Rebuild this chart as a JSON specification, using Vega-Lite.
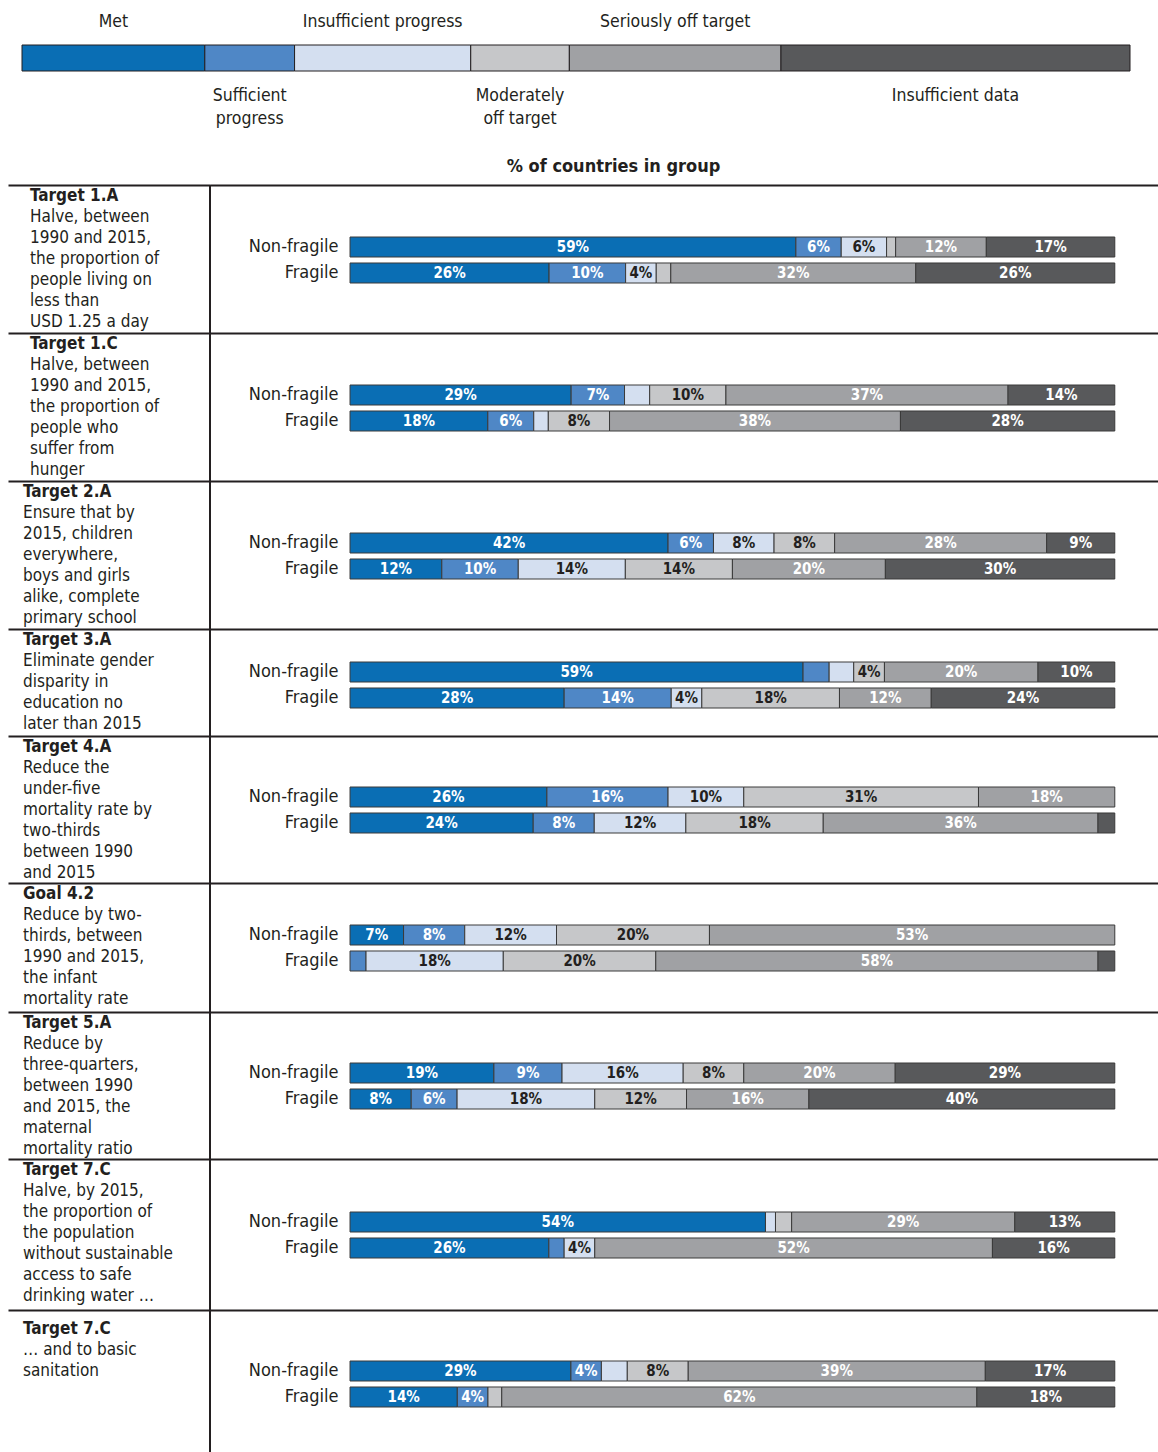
{
  "$schema": "https://vega.github.io/schema/vega-lite/v6.json",
  "padding": {"left": 8, "top": 13, "right": 0, "bottom": 0},
  "spacing": 114,
  "bounds": "flush",
  "resolve": {"scale": {"x": "independent", "y": "independent"}, "axis": {"x": "independent", "y": "independent"}},
  "datasets": {
    "keys": [
      {"status": "Met", "caption": "Met", "span": 16.5},
      {"status": "Sufficient progress", "caption": "Sufficient\nprogress", "span": 8.1},
      {"status": "Insufficient progress", "caption": "Insufficient progress", "span": 15.9},
      {"status": "Moderately off target", "caption": "Moderately\noff target", "span": 8.9},
      {"status": "Seriously off target", "caption": "Seriously off target", "span": 19.1},
      {"status": "Insufficient data", "caption": "Insufficient data", "span": 31.5}
    ],
    "notes": [
      {"target": "1.A", "line": 0, "text": "Target 1.A"},
      {"target": "1.A", "line": 1, "text": "Halve, between"},
      {"target": "1.A", "line": 2, "text": "1990 and 2015,"},
      {"target": "1.A", "line": 3, "text": "the proportion of"},
      {"target": "1.A", "line": 4, "text": "people living on"},
      {"target": "1.A", "line": 5, "text": "less than"},
      {"target": "1.A", "line": 6, "text": "USD 1.25 a day"},
      {"target": "1.C", "line": 0, "text": "Target 1.C"},
      {"target": "1.C", "line": 1, "text": "Halve, between"},
      {"target": "1.C", "line": 2, "text": "1990 and 2015,"},
      {"target": "1.C", "line": 3, "text": "the proportion of"},
      {"target": "1.C", "line": 4, "text": "people who"},
      {"target": "1.C", "line": 5, "text": "suffer from"},
      {"target": "1.C", "line": 6, "text": "hunger"},
      {"target": "2.A", "line": 0, "text": "Target 2.A"},
      {"target": "2.A", "line": 1, "text": "Ensure that by"},
      {"target": "2.A", "line": 2, "text": "2015, children"},
      {"target": "2.A", "line": 3, "text": "everywhere,"},
      {"target": "2.A", "line": 4, "text": "boys and girls"},
      {"target": "2.A", "line": 5, "text": "alike, complete"},
      {"target": "2.A", "line": 6, "text": "primary school"},
      {"target": "3.A", "line": 0, "text": "Target 3.A"},
      {"target": "3.A", "line": 1, "text": "Eliminate gender"},
      {"target": "3.A", "line": 2, "text": "disparity in"},
      {"target": "3.A", "line": 3, "text": "education no"},
      {"target": "3.A", "line": 4, "text": "later than 2015"},
      {"target": "4.A", "line": 0, "text": "Target 4.A"},
      {"target": "4.A", "line": 1, "text": "Reduce the"},
      {"target": "4.A", "line": 2, "text": "under-five"},
      {"target": "4.A", "line": 3, "text": "mortality rate by"},
      {"target": "4.A", "line": 4, "text": "two-thirds"},
      {"target": "4.A", "line": 5, "text": "between 1990"},
      {"target": "4.A", "line": 6, "text": "and 2015"},
      {"target": "4.2", "line": 0, "text": "Goal 4.2"},
      {"target": "4.2", "line": 1, "text": "Reduce by two-"},
      {"target": "4.2", "line": 2, "text": "thirds, between"},
      {"target": "4.2", "line": 3, "text": "1990 and 2015,"},
      {"target": "4.2", "line": 4, "text": "the infant"},
      {"target": "4.2", "line": 5, "text": "mortality rate"},
      {"target": "5.A", "line": 0, "text": "Target 5.A"},
      {"target": "5.A", "line": 1, "text": "Reduce by"},
      {"target": "5.A", "line": 2, "text": "three-quarters,"},
      {"target": "5.A", "line": 3, "text": "between 1990"},
      {"target": "5.A", "line": 4, "text": "and 2015, the"},
      {"target": "5.A", "line": 5, "text": "maternal"},
      {"target": "5.A", "line": 6, "text": "mortality ratio"},
      {"target": "7.C water", "line": 0, "text": "Target 7.C"},
      {"target": "7.C water", "line": 1, "text": "Halve, by 2015,"},
      {"target": "7.C water", "line": 2, "text": "the proportion of"},
      {"target": "7.C water", "line": 3, "text": "the population"},
      {"target": "7.C water", "line": 4, "text": "without sustainable"},
      {"target": "7.C water", "line": 5, "text": "access to safe"},
      {"target": "7.C water", "line": 6, "text": "drinking water …"},
      {"target": "7.C sanitation", "line": 0, "text": "Target 7.C"},
      {"target": "7.C sanitation", "line": 1, "text": "… and to basic"},
      {"target": "7.C sanitation", "line": 2, "text": "sanitation"}
    ],
    "bars": [
      {"target": "1.A", "group": "Non-fragile", "status": "Met", "value": 59},
      {"target": "1.A", "group": "Non-fragile", "status": "Sufficient progress", "value": 6},
      {"target": "1.A", "group": "Non-fragile", "status": "Insufficient progress", "value": 6},
      {"target": "1.A", "group": "Non-fragile", "status": "Moderately off target", "value": 1.2},
      {"target": "1.A", "group": "Non-fragile", "status": "Seriously off target", "value": 12},
      {"target": "1.A", "group": "Non-fragile", "status": "Insufficient data", "value": 17},
      {"target": "1.A", "group": "Fragile", "status": "Met", "value": 26},
      {"target": "1.A", "group": "Fragile", "status": "Sufficient progress", "value": 10},
      {"target": "1.A", "group": "Fragile", "status": "Insufficient progress", "value": 4},
      {"target": "1.A", "group": "Fragile", "status": "Moderately off target", "value": 1.9},
      {"target": "1.A", "group": "Fragile", "status": "Seriously off target", "value": 32},
      {"target": "1.A", "group": "Fragile", "status": "Insufficient data", "value": 26},
      {"target": "1.C", "group": "Non-fragile", "status": "Met", "value": 29},
      {"target": "1.C", "group": "Non-fragile", "status": "Sufficient progress", "value": 7},
      {"target": "1.C", "group": "Non-fragile", "status": "Insufficient progress", "value": 3.3},
      {"target": "1.C", "group": "Non-fragile", "status": "Moderately off target", "value": 10},
      {"target": "1.C", "group": "Non-fragile", "status": "Seriously off target", "value": 37},
      {"target": "1.C", "group": "Non-fragile", "status": "Insufficient data", "value": 14},
      {"target": "1.C", "group": "Fragile", "status": "Met", "value": 18},
      {"target": "1.C", "group": "Fragile", "status": "Sufficient progress", "value": 6},
      {"target": "1.C", "group": "Fragile", "status": "Insufficient progress", "value": 1.9},
      {"target": "1.C", "group": "Fragile", "status": "Moderately off target", "value": 8},
      {"target": "1.C", "group": "Fragile", "status": "Seriously off target", "value": 38},
      {"target": "1.C", "group": "Fragile", "status": "Insufficient data", "value": 28},
      {"target": "2.A", "group": "Non-fragile", "status": "Met", "value": 42},
      {"target": "2.A", "group": "Non-fragile", "status": "Sufficient progress", "value": 6},
      {"target": "2.A", "group": "Non-fragile", "status": "Insufficient progress", "value": 8},
      {"target": "2.A", "group": "Non-fragile", "status": "Moderately off target", "value": 8},
      {"target": "2.A", "group": "Non-fragile", "status": "Seriously off target", "value": 28},
      {"target": "2.A", "group": "Non-fragile", "status": "Insufficient data", "value": 9},
      {"target": "2.A", "group": "Fragile", "status": "Met", "value": 12},
      {"target": "2.A", "group": "Fragile", "status": "Sufficient progress", "value": 10},
      {"target": "2.A", "group": "Fragile", "status": "Insufficient progress", "value": 14},
      {"target": "2.A", "group": "Fragile", "status": "Moderately off target", "value": 14},
      {"target": "2.A", "group": "Fragile", "status": "Seriously off target", "value": 20},
      {"target": "2.A", "group": "Fragile", "status": "Insufficient data", "value": 30},
      {"target": "3.A", "group": "Non-fragile", "status": "Met", "value": 59},
      {"target": "3.A", "group": "Non-fragile", "status": "Sufficient progress", "value": 3.4},
      {"target": "3.A", "group": "Non-fragile", "status": "Insufficient progress", "value": 3.2},
      {"target": "3.A", "group": "Non-fragile", "status": "Moderately off target", "value": 4},
      {"target": "3.A", "group": "Non-fragile", "status": "Seriously off target", "value": 20},
      {"target": "3.A", "group": "Non-fragile", "status": "Insufficient data", "value": 10},
      {"target": "3.A", "group": "Fragile", "status": "Met", "value": 28},
      {"target": "3.A", "group": "Fragile", "status": "Sufficient progress", "value": 14},
      {"target": "3.A", "group": "Fragile", "status": "Insufficient progress", "value": 4},
      {"target": "3.A", "group": "Fragile", "status": "Moderately off target", "value": 18},
      {"target": "3.A", "group": "Fragile", "status": "Seriously off target", "value": 12},
      {"target": "3.A", "group": "Fragile", "status": "Insufficient data", "value": 24},
      {"target": "4.A", "group": "Non-fragile", "status": "Met", "value": 26},
      {"target": "4.A", "group": "Non-fragile", "status": "Sufficient progress", "value": 16},
      {"target": "4.A", "group": "Non-fragile", "status": "Insufficient progress", "value": 10},
      {"target": "4.A", "group": "Non-fragile", "status": "Moderately off target", "value": 31},
      {"target": "4.A", "group": "Non-fragile", "status": "Seriously off target", "value": 18},
      {"target": "4.A", "group": "Fragile", "status": "Met", "value": 24},
      {"target": "4.A", "group": "Fragile", "status": "Sufficient progress", "value": 8},
      {"target": "4.A", "group": "Fragile", "status": "Insufficient progress", "value": 12},
      {"target": "4.A", "group": "Fragile", "status": "Moderately off target", "value": 18},
      {"target": "4.A", "group": "Fragile", "status": "Seriously off target", "value": 36},
      {"target": "4.A", "group": "Fragile", "status": "Insufficient data", "value": 2.2},
      {"target": "4.2", "group": "Non-fragile", "status": "Met", "value": 7},
      {"target": "4.2", "group": "Non-fragile", "status": "Sufficient progress", "value": 8},
      {"target": "4.2", "group": "Non-fragile", "status": "Insufficient progress", "value": 12},
      {"target": "4.2", "group": "Non-fragile", "status": "Moderately off target", "value": 20},
      {"target": "4.2", "group": "Non-fragile", "status": "Seriously off target", "value": 53},
      {"target": "4.2", "group": "Fragile", "status": "Sufficient progress", "value": 2.1},
      {"target": "4.2", "group": "Fragile", "status": "Insufficient progress", "value": 18},
      {"target": "4.2", "group": "Fragile", "status": "Moderately off target", "value": 20},
      {"target": "4.2", "group": "Fragile", "status": "Seriously off target", "value": 58},
      {"target": "4.2", "group": "Fragile", "status": "Insufficient data", "value": 2.2},
      {"target": "5.A", "group": "Non-fragile", "status": "Met", "value": 19},
      {"target": "5.A", "group": "Non-fragile", "status": "Sufficient progress", "value": 9},
      {"target": "5.A", "group": "Non-fragile", "status": "Insufficient progress", "value": 16},
      {"target": "5.A", "group": "Non-fragile", "status": "Moderately off target", "value": 8},
      {"target": "5.A", "group": "Non-fragile", "status": "Seriously off target", "value": 20},
      {"target": "5.A", "group": "Non-fragile", "status": "Insufficient data", "value": 29},
      {"target": "5.A", "group": "Fragile", "status": "Met", "value": 8},
      {"target": "5.A", "group": "Fragile", "status": "Sufficient progress", "value": 6},
      {"target": "5.A", "group": "Fragile", "status": "Insufficient progress", "value": 18},
      {"target": "5.A", "group": "Fragile", "status": "Moderately off target", "value": 12},
      {"target": "5.A", "group": "Fragile", "status": "Seriously off target", "value": 16},
      {"target": "5.A", "group": "Fragile", "status": "Insufficient data", "value": 40},
      {"target": "7.C water", "group": "Non-fragile", "status": "Met", "value": 54},
      {"target": "7.C water", "group": "Non-fragile", "status": "Insufficient progress", "value": 1.3},
      {"target": "7.C water", "group": "Non-fragile", "status": "Moderately off target", "value": 2.1},
      {"target": "7.C water", "group": "Non-fragile", "status": "Seriously off target", "value": 29},
      {"target": "7.C water", "group": "Non-fragile", "status": "Insufficient data", "value": 13},
      {"target": "7.C water", "group": "Fragile", "status": "Met", "value": 26},
      {"target": "7.C water", "group": "Fragile", "status": "Sufficient progress", "value": 2},
      {"target": "7.C water", "group": "Fragile", "status": "Insufficient progress", "value": 4},
      {"target": "7.C water", "group": "Fragile", "status": "Seriously off target", "value": 52},
      {"target": "7.C water", "group": "Fragile", "status": "Insufficient data", "value": 16},
      {"target": "7.C sanitation", "group": "Non-fragile", "status": "Met", "value": 29},
      {"target": "7.C sanitation", "group": "Non-fragile", "status": "Sufficient progress", "value": 4},
      {"target": "7.C sanitation", "group": "Non-fragile", "status": "Insufficient progress", "value": 3.4},
      {"target": "7.C sanitation", "group": "Non-fragile", "status": "Moderately off target", "value": 8},
      {"target": "7.C sanitation", "group": "Non-fragile", "status": "Seriously off target", "value": 39},
      {"target": "7.C sanitation", "group": "Non-fragile", "status": "Insufficient data", "value": 17},
      {"target": "7.C sanitation", "group": "Fragile", "status": "Met", "value": 14},
      {"target": "7.C sanitation", "group": "Fragile", "status": "Sufficient progress", "value": 4},
      {"target": "7.C sanitation", "group": "Fragile", "status": "Moderately off target", "value": 1.8},
      {"target": "7.C sanitation", "group": "Fragile", "status": "Seriously off target", "value": 62},
      {"target": "7.C sanitation", "group": "Fragile", "status": "Insufficient data", "value": 18}
    ]
  },
  "vconcat": [
    {
      "width": 1150,
      "height": 26,
      "data": {"name": "keys"},
      "transform": [
        {"calculate": "indexof(['Met','Sufficient progress','Insufficient progress','Moderately off target','Seriously off target','Insufficient data'], datum.status)", "as": "rank"},
        {"stack": "span", "groupby": [], "sort": [{"field": "rank", "order": "ascending"}], "as": ["k0", "k1"]},
        {"calculate": "(datum.k0 + datum.k1) / 2", "as": "kmid"}
      ],
      "layer": [
        {
          "mark": {"type": "rect", "stroke": "#231f20", "strokeWidth": 1},
          "encoding": {
            "x": {"field": "k0", "type": "quantitative", "scale": {"domain": [-1.264, 102.527], "nice": false}, "axis": null},
            "x2": {"field": "k1"},
            "color": {
              "field": "status", "type": "nominal", "legend": null,
              "scale": {"domain": ["Met", "Sufficient progress", "Insufficient progress", "Moderately off target", "Seriously off target", "Insufficient data"], "range": ["#0a6eb4", "#4f87c6", "#d4dff0", "#c6c7c9", "#a0a1a4", "#58595b"]}
            }
          }
        },
        {
          "transform": [{"filter": "datum.rank % 2 === 0"}],
          "mark": {"type": "text", "baseline": "middle", "dy": -36, "fontSize": 17.5},
          "encoding": {"x": {"field": "kmid", "type": "quantitative"}, "text": {"field": "caption"}}
        },
        {
          "transform": [{"filter": "datum.rank % 2 === 1"}],
          "mark": {"type": "text", "baseline": "top", "dy": 29, "lineBreak": "\n", "lineHeight": 23, "fontSize": 17.5},
          "encoding": {"x": {"field": "kmid", "type": "quantitative"}, "text": {"field": "caption"}}
        }
      ]
    },
    {
      "columns": 2,
      "spacing": 0,
      "bounds": "flush",
      "align": "each",
      "resolve": {"scale": {"x": "independent", "y": "independent"}, "axis": {"x": "independent", "y": "independent"}},
      "concat": [
        {"width": 202, "height": {"step": 21}, "data": {"name": "notes"},
         "transform": [{"filter": "datum.target === '1.A'"}],
         "encoding": {"x": {"datum": 0, "type": "quantitative", "scale": {"domain": [0, 1], "nice": false}, "axis": {"orient": "top", "title": null}},
                      "y": {"field": "line", "type": "ordinal", "axis": null, "scale": {"type": "band", "paddingInner": 0, "paddingOuter": 0}},
                      "text": {"field": "text"}},
         "layer": [
           {"transform": [{"filter": "datum.line === 0"}], "mark": {"type": "text", "align": "left", "dx": 22, "fontWeight": "bold"}},
           {"transform": [{"filter": "datum.line > 0"}], "mark": {"type": "text", "align": "left", "dx": 22}}
         ]},
        {"width": 948, "height": 148, "data": {"name": "bars"},
         "transform": [
           {"filter": "datum.target === '1.A'"},
           {"calculate": "indexof(['Met','Sufficient progress','Insufficient progress','Moderately off target','Seriously off target','Insufficient data'], datum.status)", "as": "rank"},
           {"stack": "value", "groupby": ["group"], "sort": [{"field": "rank", "order": "ascending"}], "offset": "normalize", "as": ["x0", "x1"]},
           {"calculate": "(datum.x0 + datum.x1) / 2", "as": "mid"}
         ],
         "layer": [
           {"mark": {"type": "rect"},
            "encoding": {"x": {"field": "x0", "type": "quantitative", "scale": {"domain": [-0.1831, 1.0565], "nice": false}, "axis": {"orient": "top", "title": "% of countries in group", "titleX": 403, "titleAlign": "center", "titlePadding": 10}},
                         "x2": {"field": "x1"},
                         "y": {"field": "group", "type": "nominal", "sort": ["Non-fragile", "Fragile"], "scale": {"range": [52, 98], "paddingInner": 0.23, "paddingOuter": 0}, "axis": {"title": null}},
                         "color": {"field": "status", "type": "nominal", "legend": null}}},
           {"transform": [{"filter": "datum.value >= 4"}, {"calculate": "datum.value + '%'", "as": "label"}],
            "mark": {"type": "text", "fontSize": 15, "fontWeight": "bold"},
            "encoding": {"x": {"field": "mid", "type": "quantitative"}, "y": {"field": "group", "type": "nominal", "sort": ["Non-fragile", "Fragile"]}, "text": {"field": "label"},
                         "color": {"condition": {"test": "datum.status === 'Insufficient progress' || datum.status === 'Moderately off target'", "value": "#231f20"}, "value": "#ffffff"}}},
           {"transform": [{"aggregate": [{"op": "count", "as": "n"}]}],
            "mark": {"type": "rule", "color": "#231f20", "strokeWidth": 2},
            "encoding": {"x": {"datum": -0.1831, "type": "quantitative"}}}
         ]},
        {"width": 202, "height": {"step": 21}, "data": {"name": "notes"},
         "transform": [{"filter": "datum.target === '1.C'"}],
         "encoding": {"x": {"datum": 0, "type": "quantitative", "scale": {"domain": [0, 1], "nice": false}, "axis": {"orient": "top", "title": null}},
                      "y": {"field": "line", "type": "ordinal", "axis": null, "scale": {"type": "band", "paddingInner": 0, "paddingOuter": 0}},
                      "text": {"field": "text"}},
         "layer": [
           {"transform": [{"filter": "datum.line === 0"}], "mark": {"type": "text", "align": "left", "dx": 22, "fontWeight": "bold"}},
           {"transform": [{"filter": "datum.line > 0"}], "mark": {"type": "text", "align": "left", "dx": 22}}
         ]},
        {"width": 948, "height": 148, "data": {"name": "bars"},
         "transform": [
           {"filter": "datum.target === '1.C'"},
           {"calculate": "indexof(['Met','Sufficient progress','Insufficient progress','Moderately off target','Seriously off target','Insufficient data'], datum.status)", "as": "rank"},
           {"stack": "value", "groupby": ["group"], "sort": [{"field": "rank", "order": "ascending"}], "offset": "normalize", "as": ["x0", "x1"]},
           {"calculate": "(datum.x0 + datum.x1) / 2", "as": "mid"}
         ],
         "layer": [
           {"mark": {"type": "rect"},
            "encoding": {"x": {"field": "x0", "type": "quantitative", "scale": {"domain": [-0.1831, 1.0565], "nice": false}, "axis": {"orient": "top", "title": null}},
                         "x2": {"field": "x1"},
                         "y": {"field": "group", "type": "nominal", "sort": ["Non-fragile", "Fragile"], "scale": {"range": [52, 98], "paddingInner": 0.23, "paddingOuter": 0}, "axis": {"title": null}},
                         "color": {"field": "status", "type": "nominal", "legend": null}}},
           {"transform": [{"filter": "datum.value >= 4"}, {"calculate": "datum.value + '%'", "as": "label"}],
            "mark": {"type": "text", "fontSize": 15, "fontWeight": "bold"},
            "encoding": {"x": {"field": "mid", "type": "quantitative"}, "y": {"field": "group", "type": "nominal", "sort": ["Non-fragile", "Fragile"]}, "text": {"field": "label"},
                         "color": {"condition": {"test": "datum.status === 'Insufficient progress' || datum.status === 'Moderately off target'", "value": "#231f20"}, "value": "#ffffff"}}},
           {"transform": [{"aggregate": [{"op": "count", "as": "n"}]}],
            "mark": {"type": "rule", "color": "#231f20", "strokeWidth": 2},
            "encoding": {"x": {"datum": -0.1831, "type": "quantitative"}}}
         ]},
        {"width": 202, "height": {"step": 21}, "data": {"name": "notes"},
         "transform": [{"filter": "datum.target === '2.A'"}],
         "encoding": {"x": {"datum": 0, "type": "quantitative", "scale": {"domain": [0, 1], "nice": false}, "axis": {"orient": "top", "title": null}},
                      "y": {"field": "line", "type": "ordinal", "axis": null, "scale": {"type": "band", "paddingInner": 0, "paddingOuter": 0}},
                      "text": {"field": "text"}},
         "layer": [
           {"transform": [{"filter": "datum.line === 0"}], "mark": {"type": "text", "align": "left", "dx": 15, "fontWeight": "bold"}},
           {"transform": [{"filter": "datum.line > 0"}], "mark": {"type": "text", "align": "left", "dx": 15}}
         ]},
        {"width": 948, "height": 148, "data": {"name": "bars"},
         "transform": [
           {"filter": "datum.target === '2.A'"},
           {"calculate": "indexof(['Met','Sufficient progress','Insufficient progress','Moderately off target','Seriously off target','Insufficient data'], datum.status)", "as": "rank"},
           {"stack": "value", "groupby": ["group"], "sort": [{"field": "rank", "order": "ascending"}], "offset": "normalize", "as": ["x0", "x1"]},
           {"calculate": "(datum.x0 + datum.x1) / 2", "as": "mid"}
         ],
         "layer": [
           {"mark": {"type": "rect"},
            "encoding": {"x": {"field": "x0", "type": "quantitative", "scale": {"domain": [-0.1831, 1.0565], "nice": false}, "axis": {"orient": "top", "title": null}},
                         "x2": {"field": "x1"},
                         "y": {"field": "group", "type": "nominal", "sort": ["Non-fragile", "Fragile"], "scale": {"range": [52, 98], "paddingInner": 0.23, "paddingOuter": 0}, "axis": {"title": null}},
                         "color": {"field": "status", "type": "nominal", "legend": null}}},
           {"transform": [{"filter": "datum.value >= 4"}, {"calculate": "datum.value + '%'", "as": "label"}],
            "mark": {"type": "text", "fontSize": 15, "fontWeight": "bold"},
            "encoding": {"x": {"field": "mid", "type": "quantitative"}, "y": {"field": "group", "type": "nominal", "sort": ["Non-fragile", "Fragile"]}, "text": {"field": "label"},
                         "color": {"condition": {"test": "datum.status === 'Insufficient progress' || datum.status === 'Moderately off target'", "value": "#231f20"}, "value": "#ffffff"}}},
           {"transform": [{"aggregate": [{"op": "count", "as": "n"}]}],
            "mark": {"type": "rule", "color": "#231f20", "strokeWidth": 2},
            "encoding": {"x": {"datum": -0.1831, "type": "quantitative"}}}
         ]},
        {"width": 202, "height": {"step": 21}, "data": {"name": "notes"},
         "transform": [{"filter": "datum.target === '3.A'"}],
         "encoding": {"x": {"datum": 0, "type": "quantitative", "scale": {"domain": [0, 1], "nice": false}, "axis": {"orient": "top", "title": null}},
                      "y": {"field": "line", "type": "ordinal", "axis": null, "scale": {"type": "band", "paddingInner": 0, "paddingOuter": 0}},
                      "text": {"field": "text"}},
         "layer": [
           {"transform": [{"filter": "datum.line === 0"}], "mark": {"type": "text", "align": "left", "dx": 15, "fontWeight": "bold"}},
           {"transform": [{"filter": "datum.line > 0"}], "mark": {"type": "text", "align": "left", "dx": 15}}
         ]},
        {"width": 948, "height": 107, "data": {"name": "bars"},
         "transform": [
           {"filter": "datum.target === '3.A'"},
           {"calculate": "indexof(['Met','Sufficient progress','Insufficient progress','Moderately off target','Seriously off target','Insufficient data'], datum.status)", "as": "rank"},
           {"stack": "value", "groupby": ["group"], "sort": [{"field": "rank", "order": "ascending"}], "offset": "normalize", "as": ["x0", "x1"]},
           {"calculate": "(datum.x0 + datum.x1) / 2", "as": "mid"}
         ],
         "layer": [
           {"mark": {"type": "rect"},
            "encoding": {"x": {"field": "x0", "type": "quantitative", "scale": {"domain": [-0.1831, 1.0565], "nice": false}, "axis": {"orient": "top", "title": null}},
                         "x2": {"field": "x1"},
                         "y": {"field": "group", "type": "nominal", "sort": ["Non-fragile", "Fragile"], "scale": {"range": [33, 79], "paddingInner": 0.23, "paddingOuter": 0}, "axis": {"title": null}},
                         "color": {"field": "status", "type": "nominal", "legend": null}}},
           {"transform": [{"filter": "datum.value >= 4"}, {"calculate": "datum.value + '%'", "as": "label"}],
            "mark": {"type": "text", "fontSize": 15, "fontWeight": "bold"},
            "encoding": {"x": {"field": "mid", "type": "quantitative"}, "y": {"field": "group", "type": "nominal", "sort": ["Non-fragile", "Fragile"]}, "text": {"field": "label"},
                         "color": {"condition": {"test": "datum.status === 'Insufficient progress' || datum.status === 'Moderately off target'", "value": "#231f20"}, "value": "#ffffff"}}},
           {"transform": [{"aggregate": [{"op": "count", "as": "n"}]}],
            "mark": {"type": "rule", "color": "#231f20", "strokeWidth": 2},
            "encoding": {"x": {"datum": -0.1831, "type": "quantitative"}}}
         ]},
        {"width": 202, "height": {"step": 21}, "data": {"name": "notes"},
         "transform": [{"filter": "datum.target === '4.A'"}],
         "encoding": {"x": {"datum": 0, "type": "quantitative", "scale": {"domain": [0, 1], "nice": false}, "axis": {"orient": "top", "title": null}},
                      "y": {"field": "line", "type": "ordinal", "axis": null, "scale": {"type": "band", "paddingInner": 0, "paddingOuter": 0}},
                      "text": {"field": "text"}},
         "layer": [
           {"transform": [{"filter": "datum.line === 0"}], "mark": {"type": "text", "align": "left", "dx": 15, "fontWeight": "bold"}},
           {"transform": [{"filter": "datum.line > 0"}], "mark": {"type": "text", "align": "left", "dx": 15}}
         ]},
        {"width": 948, "height": 147, "data": {"name": "bars"},
         "transform": [
           {"filter": "datum.target === '4.A'"},
           {"calculate": "indexof(['Met','Sufficient progress','Insufficient progress','Moderately off target','Seriously off target','Insufficient data'], datum.status)", "as": "rank"},
           {"stack": "value", "groupby": ["group"], "sort": [{"field": "rank", "order": "ascending"}], "offset": "normalize", "as": ["x0", "x1"]},
           {"calculate": "(datum.x0 + datum.x1) / 2", "as": "mid"}
         ],
         "layer": [
           {"mark": {"type": "rect"},
            "encoding": {"x": {"field": "x0", "type": "quantitative", "scale": {"domain": [-0.1831, 1.0565], "nice": false}, "axis": {"orient": "top", "title": null}},
                         "x2": {"field": "x1"},
                         "y": {"field": "group", "type": "nominal", "sort": ["Non-fragile", "Fragile"], "scale": {"range": [51, 97], "paddingInner": 0.23, "paddingOuter": 0}, "axis": {"title": null}},
                         "color": {"field": "status", "type": "nominal", "legend": null}}},
           {"transform": [{"filter": "datum.value >= 4"}, {"calculate": "datum.value + '%'", "as": "label"}],
            "mark": {"type": "text", "fontSize": 15, "fontWeight": "bold"},
            "encoding": {"x": {"field": "mid", "type": "quantitative"}, "y": {"field": "group", "type": "nominal", "sort": ["Non-fragile", "Fragile"]}, "text": {"field": "label"},
                         "color": {"condition": {"test": "datum.status === 'Insufficient progress' || datum.status === 'Moderately off target'", "value": "#231f20"}, "value": "#ffffff"}}},
           {"transform": [{"aggregate": [{"op": "count", "as": "n"}]}],
            "mark": {"type": "rule", "color": "#231f20", "strokeWidth": 2},
            "encoding": {"x": {"datum": -0.1831, "type": "quantitative"}}}
         ]},
        {"width": 202, "height": {"step": 21}, "data": {"name": "notes"},
         "transform": [{"filter": "datum.target === '4.2'"}],
         "encoding": {"x": {"datum": 0, "type": "quantitative", "scale": {"domain": [0, 1], "nice": false}, "axis": {"orient": "top", "title": null}},
                      "y": {"field": "line", "type": "ordinal", "axis": null, "scale": {"type": "band", "paddingInner": 0, "paddingOuter": 0}},
                      "text": {"field": "text"}},
         "layer": [
           {"transform": [{"filter": "datum.line === 0"}], "mark": {"type": "text", "align": "left", "dx": 15, "fontWeight": "bold"}},
           {"transform": [{"filter": "datum.line > 0"}], "mark": {"type": "text", "align": "left", "dx": 15}}
         ]},
        {"width": 948, "height": 129, "data": {"name": "bars"},
         "transform": [
           {"filter": "datum.target === '4.2'"},
           {"calculate": "indexof(['Met','Sufficient progress','Insufficient progress','Moderately off target','Seriously off target','Insufficient data'], datum.status)", "as": "rank"},
           {"stack": "value", "groupby": ["group"], "sort": [{"field": "rank", "order": "ascending"}], "offset": "normalize", "as": ["x0", "x1"]},
           {"calculate": "(datum.x0 + datum.x1) / 2", "as": "mid"}
         ],
         "layer": [
           {"mark": {"type": "rect"},
            "encoding": {"x": {"field": "x0", "type": "quantitative", "scale": {"domain": [-0.1831, 1.0565], "nice": false}, "axis": {"orient": "top", "title": null}},
                         "x2": {"field": "x1"},
                         "y": {"field": "group", "type": "nominal", "sort": ["Non-fragile", "Fragile"], "scale": {"range": [42, 88], "paddingInner": 0.23, "paddingOuter": 0}, "axis": {"title": null}},
                         "color": {"field": "status", "type": "nominal", "legend": null}}},
           {"transform": [{"filter": "datum.value >= 4"}, {"calculate": "datum.value + '%'", "as": "label"}],
            "mark": {"type": "text", "fontSize": 15, "fontWeight": "bold"},
            "encoding": {"x": {"field": "mid", "type": "quantitative"}, "y": {"field": "group", "type": "nominal", "sort": ["Non-fragile", "Fragile"]}, "text": {"field": "label"},
                         "color": {"condition": {"test": "datum.status === 'Insufficient progress' || datum.status === 'Moderately off target'", "value": "#231f20"}, "value": "#ffffff"}}},
           {"transform": [{"aggregate": [{"op": "count", "as": "n"}]}],
            "mark": {"type": "rule", "color": "#231f20", "strokeWidth": 2},
            "encoding": {"x": {"datum": -0.1831, "type": "quantitative"}}}
         ]},
        {"width": 202, "height": {"step": 21}, "data": {"name": "notes"},
         "transform": [{"filter": "datum.target === '5.A'"}],
         "encoding": {"x": {"datum": 0, "type": "quantitative", "scale": {"domain": [0, 1], "nice": false}, "axis": {"orient": "top", "title": null}},
                      "y": {"field": "line", "type": "ordinal", "axis": null, "scale": {"type": "band", "paddingInner": 0, "paddingOuter": 0}},
                      "text": {"field": "text"}},
         "layer": [
           {"transform": [{"filter": "datum.line === 0"}], "mark": {"type": "text", "align": "left", "dx": 15, "fontWeight": "bold"}},
           {"transform": [{"filter": "datum.line > 0"}], "mark": {"type": "text", "align": "left", "dx": 15}}
         ]},
        {"width": 948, "height": 147, "data": {"name": "bars"},
         "transform": [
           {"filter": "datum.target === '5.A'"},
           {"calculate": "indexof(['Met','Sufficient progress','Insufficient progress','Moderately off target','Seriously off target','Insufficient data'], datum.status)", "as": "rank"},
           {"stack": "value", "groupby": ["group"], "sort": [{"field": "rank", "order": "ascending"}], "offset": "normalize", "as": ["x0", "x1"]},
           {"calculate": "(datum.x0 + datum.x1) / 2", "as": "mid"}
         ],
         "layer": [
           {"mark": {"type": "rect"},
            "encoding": {"x": {"field": "x0", "type": "quantitative", "scale": {"domain": [-0.1831, 1.0565], "nice": false}, "axis": {"orient": "top", "title": null}},
                         "x2": {"field": "x1"},
                         "y": {"field": "group", "type": "nominal", "sort": ["Non-fragile", "Fragile"], "scale": {"range": [51, 97], "paddingInner": 0.23, "paddingOuter": 0}, "axis": {"title": null}},
                         "color": {"field": "status", "type": "nominal", "legend": null}}},
           {"transform": [{"filter": "datum.value >= 4"}, {"calculate": "datum.value + '%'", "as": "label"}],
            "mark": {"type": "text", "fontSize": 15, "fontWeight": "bold"},
            "encoding": {"x": {"field": "mid", "type": "quantitative"}, "y": {"field": "group", "type": "nominal", "sort": ["Non-fragile", "Fragile"]}, "text": {"field": "label"},
                         "color": {"condition": {"test": "datum.status === 'Insufficient progress' || datum.status === 'Moderately off target'", "value": "#231f20"}, "value": "#ffffff"}}},
           {"transform": [{"aggregate": [{"op": "count", "as": "n"}]}],
            "mark": {"type": "rule", "color": "#231f20", "strokeWidth": 2},
            "encoding": {"x": {"datum": -0.1831, "type": "quantitative"}}}
         ]},
        {"width": 202, "height": {"step": 21}, "data": {"name": "notes"},
         "transform": [{"filter": "datum.target === '7.C water'"}],
         "encoding": {"x": {"datum": 0, "type": "quantitative", "scale": {"domain": [0, 1], "nice": false}, "axis": {"orient": "top", "title": null}},
                      "y": {"field": "line", "type": "ordinal", "axis": null, "scale": {"type": "band", "paddingInner": 0, "paddingOuter": 0}},
                      "text": {"field": "text"}},
         "layer": [
           {"transform": [{"filter": "datum.line === 0"}], "mark": {"type": "text", "align": "left", "dx": 15, "fontWeight": "bold"}},
           {"transform": [{"filter": "datum.line > 0"}], "mark": {"type": "text", "align": "left", "dx": 15}}
         ]},
        {"width": 948, "height": 151, "data": {"name": "bars"},
         "transform": [
           {"filter": "datum.target === '7.C water'"},
           {"calculate": "indexof(['Met','Sufficient progress','Insufficient progress','Moderately off target','Seriously off target','Insufficient data'], datum.status)", "as": "rank"},
           {"stack": "value", "groupby": ["group"], "sort": [{"field": "rank", "order": "ascending"}], "offset": "normalize", "as": ["x0", "x1"]},
           {"calculate": "(datum.x0 + datum.x1) / 2", "as": "mid"}
         ],
         "layer": [
           {"mark": {"type": "rect"},
            "encoding": {"x": {"field": "x0", "type": "quantitative", "scale": {"domain": [-0.1831, 1.0565], "nice": false}, "axis": {"orient": "top", "title": null}},
                         "x2": {"field": "x1"},
                         "y": {"field": "group", "type": "nominal", "sort": ["Non-fragile", "Fragile"], "scale": {"range": [53, 99], "paddingInner": 0.23, "paddingOuter": 0}, "axis": {"title": null}},
                         "color": {"field": "status", "type": "nominal", "legend": null}}},
           {"transform": [{"filter": "datum.value >= 4"}, {"calculate": "datum.value + '%'", "as": "label"}],
            "mark": {"type": "text", "fontSize": 15, "fontWeight": "bold"},
            "encoding": {"x": {"field": "mid", "type": "quantitative"}, "y": {"field": "group", "type": "nominal", "sort": ["Non-fragile", "Fragile"]}, "text": {"field": "label"},
                         "color": {"condition": {"test": "datum.status === 'Insufficient progress' || datum.status === 'Moderately off target'", "value": "#231f20"}, "value": "#ffffff"}}},
           {"transform": [{"aggregate": [{"op": "count", "as": "n"}]}],
            "mark": {"type": "rule", "color": "#231f20", "strokeWidth": 2},
            "encoding": {"x": {"datum": -0.1831, "type": "quantitative"}}}
         ]},
        {"width": 202, "height": {"step": 21}, "data": {"name": "notes"},
         "transform": [{"filter": "datum.target === '7.C sanitation'"}],
         "encoding": {"x": {"datum": 0, "type": "quantitative", "scale": {"domain": [0, 1], "nice": false}, "axis": {"orient": "top", "title": null}},
                      "y": {"field": "line", "type": "ordinal", "axis": null, "scale": {"type": "band", "paddingInner": 0, "paddingOuter": 0.381}},
                      "text": {"field": "text"}},
         "layer": [
           {"transform": [{"filter": "datum.line === 0"}], "mark": {"type": "text", "align": "left", "dx": 15, "fontWeight": "bold"}},
           {"transform": [{"filter": "datum.line > 0"}], "mark": {"type": "text", "align": "left", "dx": 15}}
         ]},
        {"width": 948, "height": 142, "data": {"name": "bars"},
         "transform": [
           {"filter": "datum.target === '7.C sanitation'"},
           {"calculate": "indexof(['Met','Sufficient progress','Insufficient progress','Moderately off target','Seriously off target','Insufficient data'], datum.status)", "as": "rank"},
           {"stack": "value", "groupby": ["group"], "sort": [{"field": "rank", "order": "ascending"}], "offset": "normalize", "as": ["x0", "x1"]},
           {"calculate": "(datum.x0 + datum.x1) / 2", "as": "mid"}
         ],
         "layer": [
           {"mark": {"type": "rect"},
            "encoding": {"x": {"field": "x0", "type": "quantitative", "scale": {"domain": [-0.1831, 1.0565], "nice": false}, "axis": {"orient": "top", "title": null}},
                         "x2": {"field": "x1"},
                         "y": {"field": "group", "type": "nominal", "sort": ["Non-fragile", "Fragile"], "scale": {"range": [51, 97], "paddingInner": 0.23, "paddingOuter": 0}, "axis": {"title": null}},
                         "color": {"field": "status", "type": "nominal", "legend": null}}},
           {"transform": [{"filter": "datum.value >= 4"}, {"calculate": "datum.value + '%'", "as": "label"}],
            "mark": {"type": "text", "fontSize": 15, "fontWeight": "bold"},
            "encoding": {"x": {"field": "mid", "type": "quantitative"}, "y": {"field": "group", "type": "nominal", "sort": ["Non-fragile", "Fragile"]}, "text": {"field": "label"},
                         "color": {"condition": {"test": "datum.status === 'Insufficient progress' || datum.status === 'Moderately off target'", "value": "#231f20"}, "value": "#ffffff"}}},
           {"transform": [{"aggregate": [{"op": "count", "as": "n"}]}],
            "mark": {"type": "rule", "color": "#231f20", "strokeWidth": 2},
            "encoding": {"x": {"datum": -0.1831, "type": "quantitative"}}}
         ]}
      ]
    }
  ],
  "config": {
    "font": "Liberation Sans Narrow, DejaVu Sans Condensed, sans-serif",
    "view": {"stroke": null},
    "concat": {"spacing": 0},
    "scale": {"bandPaddingInner": 0.23},
    "axis": {"domainColor": "#231f20", "domainWidth": 2, "ticks": false, "tickSize": 0, "grid": false,
             "labelFontSize": 18, "labelColor": "#231f20", "titleFontSize": 18, "titleFontWeight": "bold", "titleColor": "#231f20"},
    "axisX": {"labels": false},
    "axisY": {"labelPadding": -128, "domain": false},
    "text": {"fontSize": 17, "color": "#231f20"},
    "rect": {"stroke": "#3a3a3a", "strokeWidth": 1}
  }
}
